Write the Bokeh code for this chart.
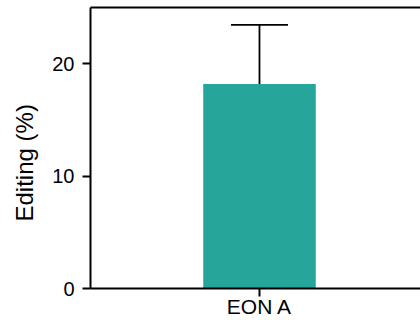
from bokeh.plotting import figure
from bokeh.models import (Range1d, FixedTicker, LinearAxis, Whisker, TeeHead,
                          ColumnDataSource, Title)
from bokeh.embed import file_html
from bokeh.resources import INLINE

# ---- data ----
categories = ["EON A"]
means = [18.2]
errors = [5.25]
y_ticks = [0, 10, 20]
y_label = "Editing (%)"

FONT = "Liberation Sans"
BAR_COLOR = "#26A69A"

x = list(range(len(categories)))
upper = [m + e for m, e in zip(means, errors)]
src = ColumnDataSource(dict(x=x, top=means, upper=upper))

p = figure(width=420, height=320, output_backend="svg", toolbar_location=None,
           x_range=Range1d(-0.5, 0.4764), y_range=Range1d(0, 25),
           min_border_left=89, min_border_right=0, min_border_top=7,
           min_border_bottom=0)
p.outline_line_color = None
p.grid.visible = False
p.background_fill_color = "white"
p.border_fill_color = "white"

p.vbar(x="x", top="top", bottom=0, width=0.333, source=src,
       fill_color=BAR_COLOR, line_color=None)

w = Whisker(base="x", lower="top", upper="upper", source=src,
            line_color="black", line_width=1.8,
            upper_head=TeeHead(size=57, line_color="black", line_width=1.8),
            lower_head=None)
p.add_layout(w)

# x axis
xa = p.xaxis[0]
xa.ticker = FixedTicker(ticks=x)
xa.major_label_overrides = {i: c for i, c in zip(x, categories)}
xa.major_tick_out = 8
xa.major_tick_in = 0
xa.minor_tick_out = 0
xa.minor_tick_in = 0
xa.axis_line_width = 2
xa.axis_line_color = "black"
xa.major_tick_line_width = 2
xa.major_tick_line_color = "black"
xa.major_label_text_font = FONT
xa.major_label_text_font_size = "21px"
xa.major_label_text_color = "black"
xa.major_label_standoff = -2

# y axis
ya = p.yaxis[0]
ya.ticker = FixedTicker(ticks=y_ticks)
ya.major_tick_out = 8
ya.major_tick_in = 0
ya.minor_tick_out = 0
ya.minor_tick_in = 0
ya.axis_line_width = 2
ya.axis_line_color = "black"
ya.major_tick_line_width = 2
ya.major_tick_line_color = "black"
ya.major_label_text_font = FONT
ya.major_label_text_font_size = "20px"
ya.major_label_text_color = "black"
ya.major_label_standoff = 8

# top frame line
top = LinearAxis(ticker=FixedTicker(ticks=[]), major_tick_out=0, major_tick_in=0,
                 minor_tick_out=0, minor_tick_in=0, major_label_standoff=0,
                 major_label_text_font_size="0px", axis_line_width=2,
                 axis_line_color="black")
p.add_layout(top, "above")

# y axis title (as a side title so it can sit below the frame centre)
p.add_layout(Title(text=y_label, align="left", offset=67, vertical_align="top",
                   standoff=20, text_font=FONT, text_font_size="24px",
                   text_font_style="normal", text_color="black"), "left")

open("out.html", "w").write(file_html(p, INLINE))
